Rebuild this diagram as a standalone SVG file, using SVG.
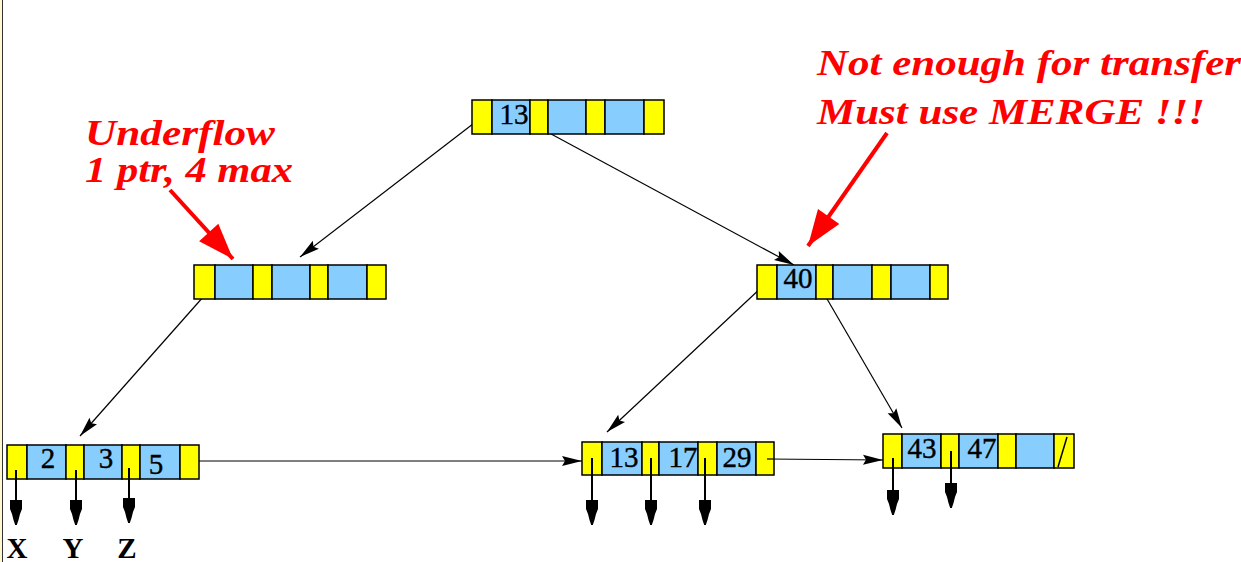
<svg xmlns="http://www.w3.org/2000/svg" width="1241" height="562" viewBox="0 0 1241 562">
<style>
.y{fill:#ffff00;stroke:#000;stroke-width:1.5}
.b{fill:#87ceff;stroke:#000;stroke-width:1.5}
.num{font-family:"Liberation Serif",serif;font-size:29px;fill:#000;text-anchor:middle;stroke:#000;stroke-width:0.4}
.lbl{font-family:"Liberation Serif",serif;font-size:29px;font-weight:bold;fill:#000;text-anchor:middle}
.red{font-family:"Liberation Serif",serif;font-size:35px;font-weight:bold;font-style:italic;fill:#ff0000}
.edge{stroke:#000;stroke-width:1.2;fill:none;marker-end:url(#ah)}
.ptr{stroke:#000;stroke-width:2;fill:none;marker-end:url(#dh)}
.rarr{stroke:#ff0000;stroke-width:4;fill:none;marker-end:url(#rh)}
</style>
<defs>
<marker id="ah" markerUnits="userSpaceOnUse" markerWidth="22" markerHeight="12" refX="20" refY="5" orient="auto" overflow="visible">
<path d="M0,0 L20,5 L0,10 L3,5 z" fill="#000"/>
</marker>
<marker id="dh" markerUnits="userSpaceOnUse" markerWidth="26" markerHeight="14" refX="25" refY="0" orient="auto" overflow="visible">
<path d="M0,-6 L9,-6 L14,-4 L20,-2.5 L25,-0.8 L25,0.8 L20,2.5 L14,4 L9,6 L0,6 z" fill="#000"/>
</marker>
<marker id="rh" markerUnits="userSpaceOnUse" markerWidth="40" markerHeight="30" refX="36" refY="13" orient="auto" overflow="visible">
<path d="M0,0 L36,13 L0,26 z" fill="#ff0000"/>
</marker>
</defs>
<rect x="0" y="0" width="1241" height="562" fill="#ffffff"/>
<rect x="0" y="0" width="2" height="562" fill="#fff8d0"/>
<line x1="2.5" y1="0" x2="2.5" y2="562" stroke="#333" stroke-width="1"/>

<g id="connectors">
<line class="edge" x1="482" y1="117" x2="300" y2="257"/>
<line class="edge" x1="540" y1="128" x2="794" y2="265"/>
<line class="edge" x1="204" y1="296" x2="80" y2="436"/>
<line class="edge" x1="763" y1="286" x2="607" y2="432"/>
<line class="edge" x1="823" y1="292" x2="902" y2="428"/>
<line class="edge" x1="199" y1="461" x2="582" y2="461"/>
<line class="edge" x1="767" y1="459" x2="883" y2="460"/>
<line class="ptr" x1="16" y1="470" x2="16" y2="525"/>
<line class="ptr" x1="76" y1="470" x2="76" y2="525"/>
<line class="ptr" x1="129" y1="468" x2="129" y2="523"/>
<line class="ptr" x1="592" y1="458" x2="592" y2="525"/>
<line class="ptr" x1="651" y1="458" x2="651" y2="525"/>
<line class="ptr" x1="705" y1="458" x2="705" y2="525"/>
<line class="ptr" x1="893" y1="458" x2="893" y2="515"/>
<line class="ptr" x1="951" y1="451" x2="951" y2="508"/>
</g>

<g id="root">
<rect class="y" x="472" y="100" width="20" height="34"/>
<rect class="b" x="492" y="100" width="38" height="34"/>
<rect class="y" x="530" y="100" width="18" height="34"/>
<rect class="b" x="548" y="100" width="38" height="34"/>
<rect class="y" x="586" y="100" width="19" height="34"/>
<rect class="b" x="605" y="100" width="39" height="34"/>
<rect class="y" x="644" y="100" width="20" height="34"/>
<text class="num" x="514" y="124">13</text>
</g>

<g id="left-internal">
<rect class="y" x="194" y="265" width="21" height="34"/>
<rect class="b" x="215" y="265" width="38" height="34"/>
<rect class="y" x="253" y="265" width="19" height="34"/>
<rect class="b" x="272" y="265" width="38" height="34"/>
<rect class="y" x="310" y="265" width="18" height="34"/>
<rect class="b" x="328" y="265" width="39" height="34"/>
<rect class="y" x="367" y="265" width="19" height="34"/>
</g>

<g id="right-internal">
<rect class="y" x="757" y="265" width="20" height="34"/>
<rect class="b" x="777" y="265" width="39" height="34"/>
<rect class="y" x="816" y="265" width="17" height="34"/>
<rect class="b" x="833" y="265" width="39" height="34"/>
<rect class="y" x="872" y="265" width="19" height="34"/>
<rect class="b" x="891" y="265" width="39" height="34"/>
<rect class="y" x="930" y="265" width="18" height="34"/>
<text class="num" x="798" y="288">40</text>
</g>

<g id="leaf-left">
<rect class="y" x="7" y="445" width="20" height="34"/>
<rect class="b" x="27" y="445" width="39" height="34"/>
<rect class="y" x="66" y="445" width="18" height="34"/>
<rect class="b" x="84" y="445" width="38" height="34"/>
<rect class="y" x="122" y="445" width="18" height="34"/>
<rect class="b" x="140" y="445" width="40" height="34"/>
<rect class="y" x="180" y="445" width="19" height="34"/>
<text class="num" x="48" y="468">2</text>
<text class="num" x="106" y="468">3</text>
<text class="num" x="156" y="474">5</text>
<line x1="16" y1="470" x2="16" y2="500" stroke="#000" stroke-width="2"/>
<line x1="76" y1="470" x2="76" y2="500" stroke="#000" stroke-width="2"/>
<line x1="129" y1="468" x2="129" y2="498" stroke="#000" stroke-width="2"/>
</g>

<g id="leaf-middle">
<rect class="y" x="582" y="442" width="20" height="33"/>
<rect class="b" x="602" y="442" width="40" height="33"/>
<rect class="y" x="642" y="442" width="17" height="33"/>
<rect class="b" x="659" y="442" width="39" height="33"/>
<rect class="y" x="698" y="442" width="19" height="33"/>
<rect class="b" x="717" y="442" width="39" height="33"/>
<rect class="y" x="756" y="442" width="18" height="33"/>
<text class="num" x="624" y="467">13</text>
<text class="num" x="683" y="467">17</text>
<text class="num" x="737" y="467">29</text>
<line x1="592" y1="458" x2="592" y2="498" stroke="#000" stroke-width="2"/>
<line x1="651" y1="458" x2="651" y2="498" stroke="#000" stroke-width="2"/>
<line x1="705" y1="458" x2="705" y2="498" stroke="#000" stroke-width="2"/>
<line x1="767" y1="459" x2="774" y2="459" stroke="#000" stroke-width="1.2"/>
</g>

<g id="leaf-right">
<rect class="y" x="883" y="434" width="19" height="34"/>
<rect class="b" x="902" y="434" width="39" height="34"/>
<rect class="y" x="941" y="434" width="18" height="34"/>
<rect class="b" x="959" y="434" width="39" height="34"/>
<rect class="y" x="998" y="434" width="18" height="34"/>
<rect class="b" x="1016" y="434" width="38" height="34"/>
<rect class="y" x="1054" y="434" width="20" height="34"/>
<line x1="1058" y1="467" x2="1067" y2="437" stroke="#000" stroke-width="1.5"/>
<text class="num" x="922" y="458">43</text>
<text class="num" x="982" y="458">47</text>
<line x1="893" y1="458" x2="893" y2="490" stroke="#000" stroke-width="2"/>
<line x1="951" y1="451" x2="951" y2="483" stroke="#000" stroke-width="2"/>
</g>

<g id="pointer-labels">
<text class="lbl" x="17" y="558">X</text>
<text class="lbl" x="73" y="558">Y</text>
<text class="lbl" x="127" y="558">Z</text>
</g>

<g id="annotation-underflow">
<text class="red" x="85" y="145" textLength="190" lengthAdjust="spacingAndGlyphs">Underflow</text>
<text class="red" x="85" y="182" textLength="208" lengthAdjust="spacingAndGlyphs">1 ptr, 4 max</text>
<line class="rarr" x1="170" y1="190" x2="233" y2="259"/>
</g>

<g id="annotation-merge">
<text class="red" x="817" y="75" textLength="424" lengthAdjust="spacingAndGlyphs">Not enough for transfer</text>
<text class="red" x="817" y="124" textLength="388" lengthAdjust="spacingAndGlyphs">Must use MERGE !!!</text>
<line class="rarr" x1="887" y1="133" x2="808" y2="246"/>
</g>
</svg>
